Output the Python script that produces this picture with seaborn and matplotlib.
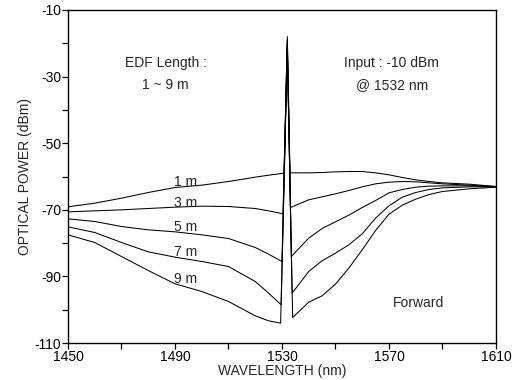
import numpy as np
import pandas as pd
import matplotlib
matplotlib.use("Agg")
import matplotlib.pyplot as plt
import seaborn as sns

sns.set_style("ticks")
plt.rcParams.update({
    "font.family": ["Liberation Sans", "DejaVu Sans"],
    "axes.edgecolor": "black",
    "axes.linewidth": 1.0,
    "axes.unicode_minus": False,
    "xtick.color": "black",
    "ytick.color": "black",
})

# background spectrum grid (nm)
wavelength = [1450, 1460, 1470, 1480, 1490, 1500, 1510, 1520, 1525,
              1540, 1545, 1550, 1555, 1560, 1565, 1570, 1575,
              1580, 1585, 1590, 1600, 1610]

power_1m = [-69.1, -68.0, -66.5, -64.8, -63.3, -62.6, -61.5, -60.2, -59.6,
            -58.9, -58.8, -58.6, -58.5, -58.5, -58.9, -59.5, -60.3,
            -61.0, -61.5, -61.9, -62.3, -63.0]
power_3m = [-70.6, -70.3, -70.0, -69.6, -69.2, -68.9, -69.0, -69.6, -70.3,
            -67.0, -66.1, -65.2, -64.2, -63.1, -62.2, -61.7, -61.5,
            -61.6, -61.9, -62.2, -62.6, -63.0]
power_5m = [-72.7, -73.5, -75.0, -76.0, -76.6, -77.5, -78.6, -81.3, -83.3,
            -78.5, -75.6, -73.6, -71.6, -69.3, -67.2, -64.9, -63.9,
            -63.2, -62.9, -62.8, -62.8, -63.1]
power_7m = [-75.1, -76.8, -79.8, -82.6, -84.2, -85.5, -87.0, -91.5, -95.0,
            -88.5, -85.3, -83.0, -80.5, -77.2, -72.5, -68.8, -66.2,
            -64.8, -63.9, -63.4, -63.1, -63.1]
power_9m = [-77.5, -79.8, -84.0, -88.2, -92.2, -94.5, -97.5, -101.8, -103.3,
            -97.7, -95.8, -92.3, -87.5, -82.0, -76.2, -71.3, -68.6,
            -66.8, -65.4, -64.5, -63.7, -63.2]

# amplified input signal at 1532 nm (left foot, peak, right foot)
signal_nm = 1532
spike_left_nm = [1530.8, 1530.4, 1530.0, 1529.7, 1529.5]
spike_left_dbm = [-59.0, -71.2, -85.5, -98.5, -104.0]
spike_peak_dbm = [-18.0, -19.0, -20.0, -21.0, -22.0]
spike_right_nm = [1533.0, 1533.2, 1533.5, 1533.8, 1534.0]
spike_right_dbm = [-58.9, -69.3, -84.0, -95.0, -102.3]

lengths = ["1 m", "3 m", "5 m", "7 m", "9 m"]
series = [power_1m, power_3m, power_5m, power_7m, power_9m]
label_x = [1494, 1494, 1494, 1494, 1494]
label_y = [-61.6, -67.9, -75.1, -82.7, -90.8]

frames = []
for i, (name, p) in enumerate(zip(lengths, series)):
    w = list(wavelength) + [spike_left_nm[i], signal_nm, spike_right_nm[i]]
    v = list(p) + [spike_left_dbm[i], spike_peak_dbm[i], spike_right_dbm[i]]
    d = pd.DataFrame({"wavelength": w, "power": v, "length": name})
    frames.append(d.sort_values("wavelength"))
df = pd.concat(frames)

fig = plt.figure(figsize=(5.15, 3.8), dpi=100)
ax = fig.add_axes([0.132, 0.097, 0.831, 0.877])

sns.lineplot(data=df, x="wavelength", y="power", hue="length",
             palette=["black"] * 5, linewidth=0.75, legend=False,
             sort=False, estimator=None, ax=ax)

for name, lx, ly in zip(lengths, label_x, label_y):
    ax.text(lx, ly, name, ha="center", va="center", fontsize=10)

ax.text(1486.5, -26, "EDF Length :", ha="center", va="center", fontsize=10)
ax.text(1486.5, -32.5, "1 ~ 9 m", ha="center", va="center", fontsize=10)
ax.text(1571, -26, "Input : -10 dBm", ha="center", va="center", fontsize=10)
ax.text(1571, -32.5, "@ 1532 nm", ha="center", va="center", fontsize=10)
ax.text(1581, -98, "Forward", ha="center", va="center", fontsize=10)

ax.set_xlim(1450, 1610)
ax.set_ylim(-110, -10)
ax.set_xticks(np.arange(1450, 1611, 40))
ax.set_xticks(np.arange(1470, 1611, 40), minor=True)
ax.set_yticks(np.arange(-110, -9, 20))
ax.set_yticks(np.arange(-100, -9, 20), minor=True)
ax.tick_params(which="both", direction="out", length=4, width=0.9, labelsize=10, pad=1)

ax.set_xlabel("WAVELENGTH (nm)", fontsize=10, labelpad=0)
ax.set_ylabel("OPTICAL POWER (dBm)", fontsize=10, labelpad=2)

fig.savefig("out.png", dpi=100)
